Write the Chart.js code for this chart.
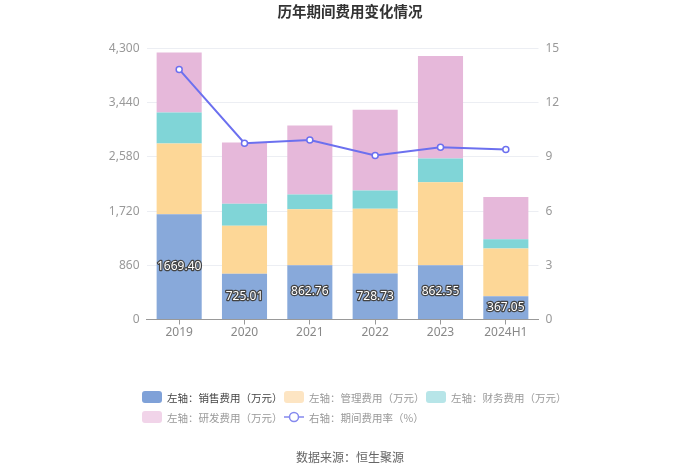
<!DOCTYPE html>
<html>
<head>
<meta charset="utf-8">
<script src="https://cdn.jsdelivr.net/npm/chart.js@4"></script>
<style>
  body { margin:0; background:#fff; font-family:"Noto Sans","Noto Sans CJK SC",sans-serif; }
  #wrap { position:relative; width:700px; height:473px; }
  #chart { position:absolute; left:0; top:0; }
  #title { position:absolute; top:0px; left:0; width:700px; text-align:center; font-size:14.5px; font-weight:bold; color:#333; font-family:"Noto Sans CJK SC",sans-serif; }
  #source { position:absolute; top:448px; left:0; width:700px; text-align:center; font-size:12px; color:#666; font-family:"Noto Sans CJK SC",sans-serif; }
  #legend { position:absolute; left:142px; top:387px; width:430px; display:flex; flex-wrap:wrap; font-family:"Noto Sans CJK SC",sans-serif; font-size:10.5px; }
  .item { width:142px; height:20px; display:flex; align-items:center; color:#999; white-space:nowrap; }
  .item .box { width:20px; height:12px; border-radius:3px; margin-right:5px; }
  .item.active { color:#444; }
</style>
</head>
<body>
<div id="wrap">
  <canvas id="chart" width="700" height="473"></canvas>
  <div id="title">历年期间费用变化情况</div>
  <div id="legend"></div>
  <div id="source">数据来源：恒生聚源</div>
</div>
<script>
// data (万元 / %)
const years = ['2019','2020','2021','2022','2023','2024H1'];
const sales = [1669.40, 725.01, 862.76, 728.73, 862.55, 367.05];
const admin = [1125, 762, 888, 1028, 1317, 760];
const finance = [492, 349, 233, 291, 376, 148];
const rnd = [952, 974, 1095, 1280, 1624, 667];
const rate = [13.84, 9.76, 9.94, 9.08, 9.54, 9.41];

const leftTicks = [0, 860, 1720, 2580, 3440, 4300];
const rightTicks = [0, 3, 6, 9, 12, 15];

const colors = { sales:'#88a9da', admin:'#fdd797', finance:'#80d5d7', rnd:'#e6b8da', rate:'#6c70ef' };

// legend (html, so rows line up on the left like the original)
const legendItems = [
  { text:'左轴：销售费用（万元）', color:'#7fa1d8', active:true },
  { text:'左轴：管理费用（万元）', color:'#fde5c3' },
  { text:'左轴：财务费用（万元）', color:'#b7e5e8' },
  { text:'左轴：研发费用（万元）', color:'#f1d4e9' },
  { text:'右轴：期间费用率（%）', line:'#8589ee' }
];
const legendEl = document.getElementById('legend');
legendItems.forEach(it => {
  const d = document.createElement('div');
  d.className = 'item' + (it.active ? ' active' : '');
  if (it.line) {
    d.innerHTML = '<svg width="20" height="12" style="margin-right:5px"><line x1="0" y1="6" x2="20" y2="6" stroke="'+it.line+'" stroke-width="1.5"/><circle cx="10" cy="6" r="4.5" fill="#fff" stroke="'+it.line+'" stroke-width="1.5"/></svg>';
  } else {
    d.innerHTML = '<span class="box" style="background:'+it.color+'"></span>';
  }
  const t = document.createElement('span');
  t.textContent = it.text;
  d.appendChild(t);
  legendEl.appendChild(d);
});

// white labels with dark outline on the sales bars
const barLabels = {
  id:'barLabels',
  afterDatasetsDraw(chart) {
    const ctx = chart.ctx;
    const meta = chart.getDatasetMeta(0);
    ctx.save();
    ctx.font = '12px "Noto Sans", sans-serif';
    ctx.textAlign = 'center';
    ctx.textBaseline = 'middle';
    ctx.lineJoin = 'round';
    meta.data.forEach((bar, i) => {
      const y = (bar.y + bar.base) / 2;
      const txt = sales[i].toFixed(2);
      ctx.lineWidth = 2.5;
      ctx.strokeStyle = '#444';
      ctx.strokeText(txt, bar.x, y);
      ctx.fillStyle = '#fff';
      ctx.fillText(txt, bar.x, y);
    });
    ctx.restore();
  }
};

const tickFont = { family:'"Noto Sans", sans-serif', size:12 };

new Chart(document.getElementById('chart'), {
  type:'bar',
  data:{
    labels: years,
    datasets:[
      { label:'销售费用', data:sales, backgroundColor:colors.sales, yAxisID:'y', order:2 },
      { label:'管理费用', data:admin, backgroundColor:colors.admin, yAxisID:'y', order:2 },
      { label:'财务费用', data:finance, backgroundColor:colors.finance, yAxisID:'y', order:2 },
      { label:'研发费用', data:rnd, backgroundColor:colors.rnd, yAxisID:'y', order:2 },
      { type:'line', label:'期间费用率', data:rate, yAxisID:'y1', order:0,
        borderColor:colors.rate, borderWidth:2, tension:0,
        pointRadius:3, pointBackgroundColor:'#fff', pointBorderColor:colors.rate, pointBorderWidth:1.5 }
    ]
  },
  options:{
    responsive:false,
    animation:false,
    layout:{ padding:{ top:48.5, left:0, right:0, bottom:0 } },
    datasets:{ bar:{ categoryPercentage:1, barPercentage:0.69 } },
    plugins:{ legend:{ display:false }, title:{ display:false }, tooltip:{ enabled:false } },
    scales:{
      x:{
        stacked:true,
        grid:{ display:true, drawOnChartArea:false, drawTicks:true, tickLength:5, offset:false, color:'#999' },
        border:{ display:true, color:'#999' },
        ticks:{ color:'#888', font:tickFont, padding:1 },
        afterFit(s){ s.height = 153.5; }
      },
      y:{
        stacked:true, position:'left', min:0, max:4300,
        afterBuildTicks(s){ s.ticks = leftTicks.map(v => ({ value:v })); },
        grid:{ color:'#eceef3', drawTicks:false },
        border:{ display:false },
        ticks:{ color:'#999', font:tickFont, padding:7, callback:v => v.toLocaleString('en-US') },
        afterFit(s){ s.width = 146.5; }
      },
      y1:{
        stacked:false, position:'right', min:0, max:15,
        afterBuildTicks(s){ s.ticks = rightTicks.map(v => ({ value:v })); },
        grid:{ drawOnChartArea:false, drawTicks:false },
        border:{ display:false },
        ticks:{ color:'#999', font:tickFont, padding:7 },
        afterFit(s){ s.width = 161.5; }
      }
    }
  },
  plugins:[barLabels]
});
</script>
</body>
</html>
